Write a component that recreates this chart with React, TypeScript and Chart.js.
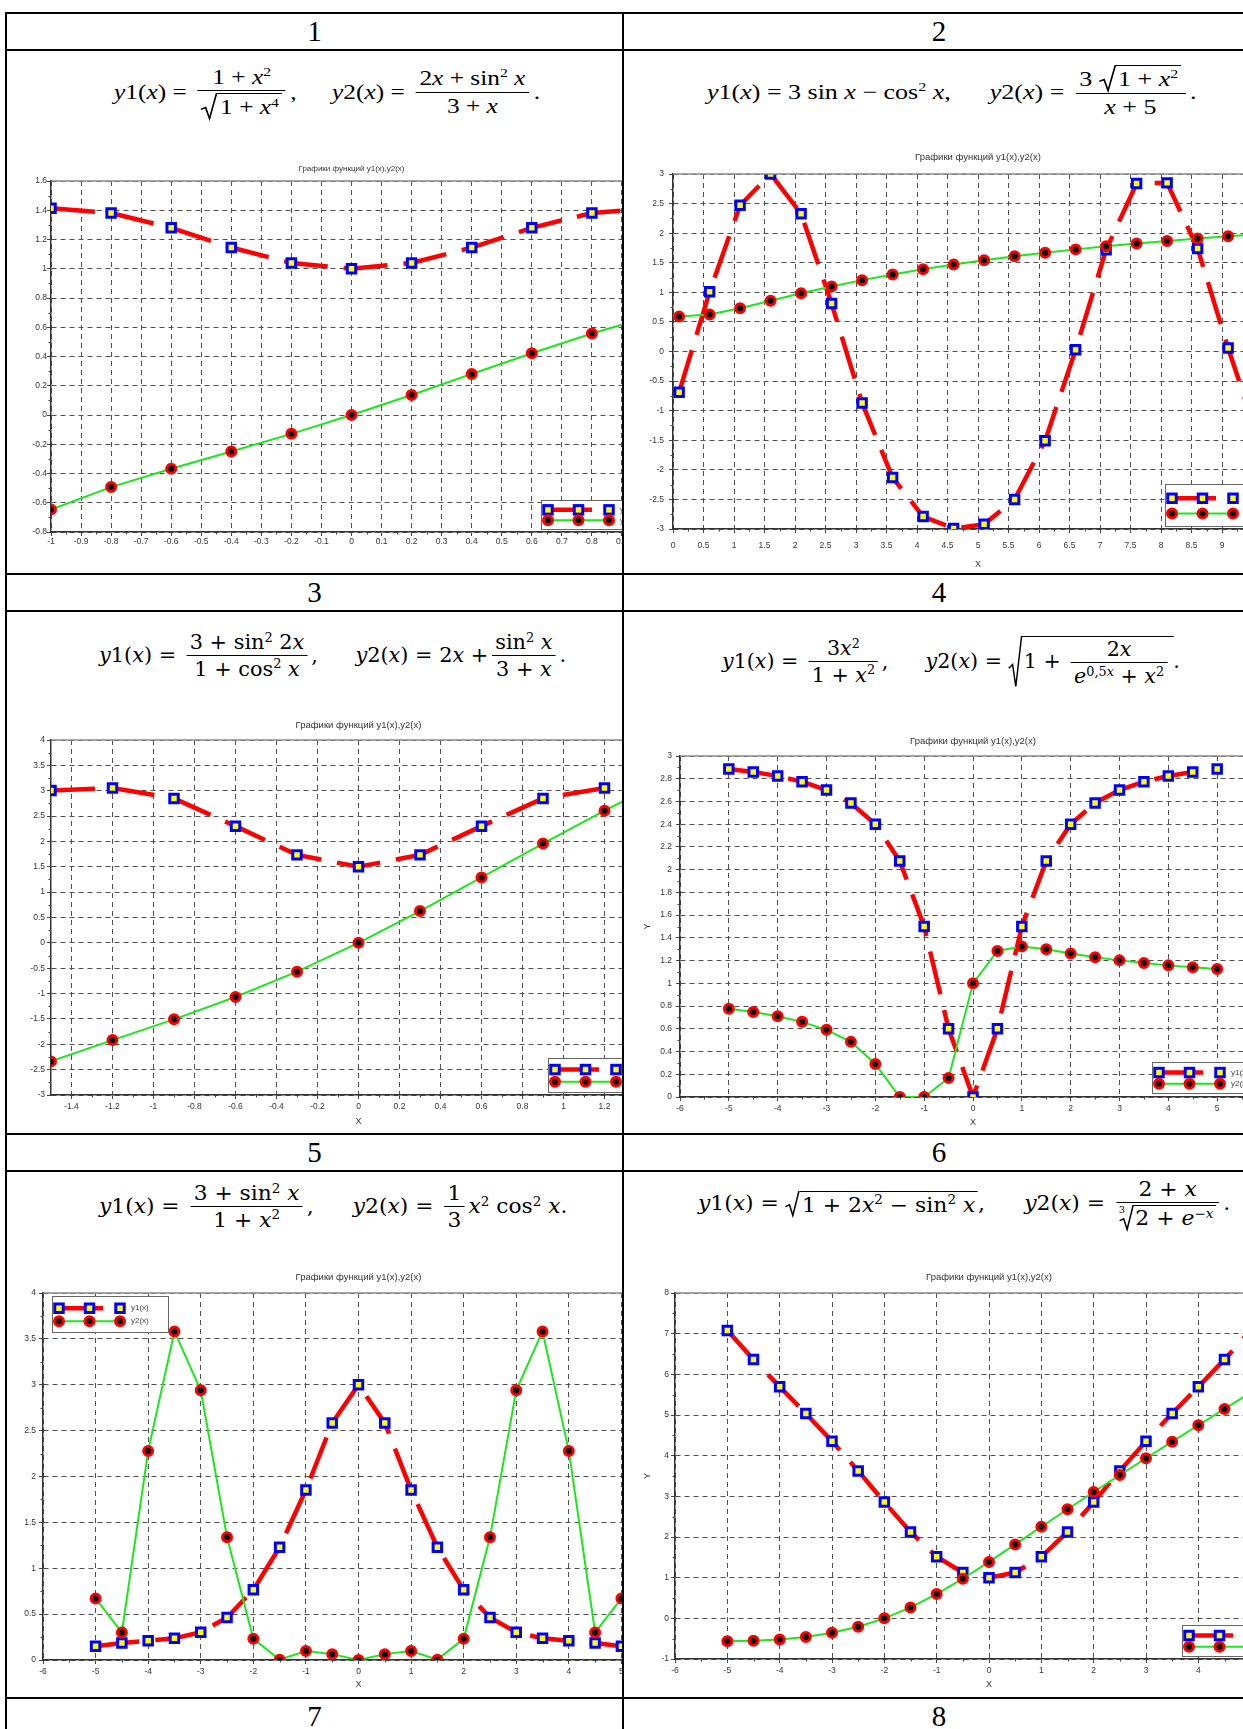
import React, { useEffect, useLayoutEffect, useRef } from 'react';
import { Chart, registerables } from 'chart.js';

Chart.register(...registerables);

// ================= DATA =================
const CHART_TITLE = 'Графики функций y1(x),y2(x)';
const SERIES_LABELS = ['y1(x)', 'y2(x)'];
const AXIS_X_LABEL = 'X';
const AXIS_Y_LABEL = 'Y';
const HEADERS_LEFT = ['1', '3', '5', '7'];
const HEADERS_RIGHT = ['2', '4', '6', '8'];

// Chart 1
const X1 = [-1, -0.8, -0.6, -0.4, -0.2, 0, 0.2, 0.4, 0.6, 0.8, 1];
const Y1_1 = [1.414, 1.381, 1.28, 1.145, 1.039, 1.0, 1.039, 1.145, 1.28, 1.381, 1.414];
const Y2_1 = [-0.646, -0.493, -0.367, -0.249, -0.129, 0, 0.137, 0.28, 0.422, 0.557, 0.677];
const X_TICKS_1 = [-1, -0.9, -0.8, -0.7, -0.6, -0.5, -0.4, -0.3, -0.2, -0.1, 0, 0.1, 0.2, 0.3, 0.4, 0.5, 0.6, 0.7, 0.8, 0.9, 1];
const Y_TICKS_1 = [-0.8, -0.6, -0.4, -0.2, 0, 0.2, 0.4, 0.6, 0.8, 1, 1.2, 1.4, 1.6];

// Chart 2
const X2 = [0.1, 0.6, 1.1, 1.6, 2.1, 2.6, 3.1, 3.6, 4.1, 4.6, 5.1, 5.6, 6.1, 6.6, 7.1, 7.6, 8.1, 8.6, 9.1, 9.6];
const Y1_2 = [-0.69, 1.01, 2.47, 3.0, 2.33, 0.81, -0.87, -2.13, -2.79, -2.99, -2.92, -2.5, -1.51, 0.03, 1.72, 2.84, 2.85, 1.74, 0.06, -1.49];
const Y2_2 = [0.591, 0.625, 0.731, 0.858, 0.983, 1.1, 1.206, 1.303, 1.391, 1.471, 1.544, 1.61, 1.671, 1.726, 1.778, 1.825, 1.869, 1.91, 1.948, 1.983];
const X_TICKS_2 = [0, 0.5, 1, 1.5, 2, 2.5, 3, 3.5, 4, 4.5, 5, 5.5, 6, 6.5, 7, 7.5, 8, 8.5, 9, 9.5, 10];
const Y_TICKS_2 = [-3, -2.5, -2, -1.5, -1, -0.5, 0, 0.5, 1, 1.5, 2, 2.5, 3];

// Chart 3
const X3 = [-1.5, -1.2, -0.9, -0.6, -0.3, 0, 0.3, 0.6, 0.9, 1.2, 1.5];
const Y1_3 = [3.005, 3.055, 2.848, 2.301, 1.735, 1.5, 1.735, 2.301, 2.848, 3.055, 3.005];
const Y2_3 = [-2.337, -1.917, -1.508, -1.067, -0.568, 0, 0.627, 1.289, 1.957, 2.607, 3.221];
const X_TICKS_3 = [-1.4, -1.2, -1, -0.8, -0.6, -0.4, -0.2, 0, 0.2, 0.4, 0.6, 0.8, 1, 1.2, 1.4];
const Y_TICKS_3 = [-3, -2.5, -2, -1.5, -1, -0.5, 0, 0.5, 1, 1.5, 2, 2.5, 3, 3.5, 4];

// Charts 4-6 share the x grid
const X_HALF = [-5, -4.5, -4, -3.5, -3, -2.5, -2, -1.5, -1, -0.5, 0, 0.5, 1, 1.5, 2, 2.5, 3, 3.5, 4, 4.5, 5];
const X_TICKS_INT = [-6, -5, -4, -3, -2, -1, 0, 1, 2, 3, 4, 5, 6];

// Chart 4
const Y1_4 = [2.885, 2.859, 2.824, 2.774, 2.7, 2.586, 2.4, 2.077, 1.5, 0.6, 0, 0.6, 1.5, 2.077, 2.4, 2.586, 2.7, 2.774, 2.824, 2.859, 2.885];
const Y2_4 = [0.776, 0.747, 0.71, 0.661, 0.591, 0.485, 0.29, 0, 0, 0.167, 1, 1.285, 1.325, 1.299, 1.263, 1.23, 1.202, 1.179, 1.158, 1.141, 1.127];
const Y_TICKS_4 = [0, 0.2, 0.4, 0.6, 0.8, 1, 1.2, 1.4, 1.6, 1.8, 2, 2.2, 2.4, 2.6, 2.8, 3];

// Chart 5
const Y1_5 = [0.151, 0.186, 0.21, 0.236, 0.302, 0.463, 0.765, 1.229, 1.854, 2.584, 3.0, 2.584, 1.854, 1.229, 0.765, 0.463, 0.302, 0.236, 0.21, 0.186, 0.151];
const Y2_5 = [0.671, 0.3, 2.279, 3.581, 2.94, 1.337, 0.231, 0.004, 0.097, 0.064, 0, 0.064, 0.097, 0.004, 0.231, 1.337, 2.94, 3.581, 2.279, 0.3, 0.671];
const Y_TICKS_5 = [0, 0.5, 1, 1.5, 2, 2.5, 3, 3.5, 4];

// Chart 6
const Y1_6 = [7.077, 6.367, 5.694, 5.038, 4.357, 3.625, 2.859, 2.123, 1.514, 1.127, 1, 1.127, 1.514, 2.123, 2.859, 3.625, 4.357, 5.038, 5.694, 6.367, 7.077];
const Y2_6 = [-0.564, -0.554, -0.521, -0.458, -0.356, -0.207, 0, 0.268, 0.596, 0.974, 1.387, 1.817, 2.251, 2.682, 3.106, 3.524, 3.936, 4.344, 4.748, 5.15, 5.55];
const Y_TICKS_6 = [-1, 0, 1, 2, 3, 4, 5, 6, 7, 8];

// ================= STYLE / LAYOUT =================
const RED = '#ff0000';
const GREEN = '#1ee61e';
const BLUE = '#0000ff';
const YELLOW = '#ffff00';
const RED_DASH = [44, 16];
const GRID_DASH = [5, 4];
const AX_W = 50;
const AX_H = 45;
const PAD_T = 30;
const PAD_R = 20;
const SANS = '"Liberation Sans", Arial, sans-serif';
const SERIF_T = '"Liberation Serif", "Times New Roman", serif';
const SERIF_C = '"DejaVu Serif", "Liberation Serif", serif';

const CELLS = {
  c1: { l: 7, t: 51, r: 622, b: 573 },
  c2: { l: 624, t: 51, r: 1243, b: 573 },
  c3: { l: 7, t: 612, r: 622, b: 1133 },
  c4: { l: 624, t: 612, r: 1243, b: 1133 },
  c5: { l: 7, t: 1172, r: 622, b: 1697 },
  c6: { l: 624, t: 1172, r: 1243, b: 1697 },
};

const SPECS: any[] = [
  { xs: X1, y1: Y1_1, y2: Y2_1, xMin: -1, xMax: 1, yMin: -0.8, yMax: 1.6, xTicks: X_TICKS_1, yTicks: Y_TICKS_1,
    plot: { l: 51, t: 181, r: 652, b: 532 }, cell: CELLS.c1, titleY: 169, titleSize: 8,
    xLabelY: null, yLabelX: null, legend: { x: 541, y: 500, w: 116, h: 29 }, xPad: 1, yPad: 0 },
  { xs: X2, y1: Y1_2, y2: Y2_2, xMin: 0, xMax: 10, yMin: -3, yMax: 3, xTicks: X_TICKS_2, yTicks: Y_TICKS_2,
    plot: { l: 673, t: 174, r: 1283, b: 529 }, cell: CELLS.c2, titleY: 157, titleSize: 9.5,
    xLabelY: 565, yLabelX: null, legend: { x: 1165, y: 484, w: 116, h: 42 }, xPad: 8, yPad: 5 },
  { xs: X3, y1: Y1_3, y2: Y2_3, xMin: -1.5, xMax: 1.5, yMin: -3, yMax: 4, xTicks: X_TICKS_3, yTicks: Y_TICKS_3,
    plot: { l: 51, t: 740, r: 666, b: 1095 }, cell: CELLS.c3, titleY: 725, titleSize: 9.5,
    xLabelY: 1122, yLabelX: null, legend: { x: 548, y: 1058, w: 116, h: 34 }, xPad: 2.5, yPad: 2 },
  { xs: X_HALF, y1: Y1_4, y2: Y2_4, xMin: -6, xMax: 6, yMin: 0, yMax: 3, xTicks: X_TICKS_INT, yTicks: Y_TICKS_4,
    plot: { l: 680, t: 756, r: 1266, b: 1097 }, cell: CELLS.c4, titleY: 741, titleSize: 9.5,
    xLabelY: 1123, yLabelX: 648, legend: { x: 1152, y: 1062, w: 116, h: 31 }, xPad: 2.5, yPad: 4 },
  { xs: X_HALF, y1: Y1_5, y2: Y2_5, xMin: -6, xMax: 6, yMin: 0, yMax: 4, xTicks: X_TICKS_INT, yTicks: Y_TICKS_5,
    plot: { l: 43, t: 1293, r: 674, b: 1660 }, cell: CELLS.c5, titleY: 1277, titleSize: 9.5,
    xLabelY: 1685, yLabelX: null, legend: { x: 52, y: 1296, w: 116, h: 36 }, xPad: 2.5, yPad: 3 },
  { xs: X_HALF, y1: Y1_6, y2: Y2_6, xMin: -6, xMax: 6, yMin: -1, yMax: 8, xTicks: X_TICKS_INT, yTicks: Y_TICKS_6,
    plot: { l: 675, t: 1293, r: 1303, b: 1659 }, cell: CELLS.c6, titleY: 1277, titleSize: 9.5,
    xLabelY: 1685, yLabelX: 648, legend: { x: 1182, y: 1625, w: 116, h: 31 }, xPad: 2.5, yPad: 2 },
];

// ================= CHART HELPERS =================
function drawSquare(ctx: any, x: number, y: number) {
  const s = 8.5;
  ctx.fillStyle = YELLOW;
  ctx.fillRect(x - s / 2, y - s / 2, s, s);
  ctx.strokeStyle = BLUE;
  ctx.lineWidth = 3;
  ctx.strokeRect(x - s / 2, y - s / 2, s, s);
}
function drawDot(ctx: any, x: number, y: number) {
  ctx.beginPath();
  ctx.arc(x, y, 4.5, 0, Math.PI * 2);
  ctx.fillStyle = '#000';
  ctx.fill();
  ctx.strokeStyle = RED;
  ctx.lineWidth = 3;
  ctx.stroke();
}

const decoPlugin = {
  id: 'deco',
  afterDraw(chart: any, _a: any, o: any) {
    const { ctx, chartArea: ca, scales } = chart;
    const xs = scales.x;
    const ys = scales.y;
    ctx.save();
    ctx.setLineDash([]);
    ctx.strokeStyle = '#8c8c8c';
    ctx.lineWidth = 1.5;
    ctx.beginPath();
    ctx.moveTo(ca.left, ca.top);
    ctx.lineTo(ca.right, ca.top);
    ctx.lineTo(ca.right, ca.bottom);
    ctx.stroke();
    // minor ticks
    ctx.strokeStyle = '#444';
    ctx.lineWidth = 1;
    ctx.beginPath();
    const xt = xs.ticks.map((t: any) => t.value);
    for (let i = 0; i < xt.length - 1; i++) {
      const px = Math.round(xs.getPixelForValue((xt[i] + xt[i + 1]) / 2)) + 0.5;
      ctx.moveTo(px, ca.bottom);
      ctx.lineTo(px, ca.bottom + 2.5);
    }
    const yt = ys.ticks.map((t: any) => t.value);
    for (let i = 0; i < yt.length - 1; i++) {
      const py = Math.round(ys.getPixelForValue((yt[i] + yt[i + 1]) / 2)) + 0.5;
      ctx.moveTo(ca.left, py);
      ctx.lineTo(ca.left - 2.5, py);
    }
    ctx.stroke();
    // texts
    const cx = (ca.left + ca.right) / 2;
    ctx.fillStyle = '#333';
    ctx.textAlign = 'center';
    ctx.textBaseline = 'middle';
    ctx.font = `${o.titleSize}px ${SANS}`;
    ctx.fillText(o.title, cx, o.titleY);
    ctx.font = `9px ${SANS}`;
    if (o.xLabelY != null) ctx.fillText(o.xLabel, cx, o.xLabelY);
    if (o.yLabelX != null) {
      ctx.save();
      ctx.translate(o.yLabelX, (ca.top + ca.bottom) / 2);
      ctx.rotate(-Math.PI / 2);
      ctx.fillText(o.yLabel, 0, 0);
      ctx.restore();
    }
    // legend
    const L = o.legend;
    ctx.fillStyle = '#fff';
    ctx.fillRect(L.x, L.y, L.w, L.h);
    ctx.strokeStyle = '#666';
    ctx.lineWidth = 1;
    ctx.strokeRect(L.x + 0.5, L.y + 0.5, L.w, L.h);
    const r1 = L.y + L.h * 0.34;
    const r2 = L.y + L.h * 0.7;
    const m = [L.x + 7, L.x + 37.5, L.x + 68];
    ctx.lineCap = 'butt';
    ctx.strokeStyle = RED;
    ctx.lineWidth = 4.5;
    ctx.setLineDash(RED_DASH);
    ctx.beginPath();
    ctx.moveTo(m[0], r1);
    ctx.lineTo(m[2], r1);
    ctx.stroke();
    ctx.setLineDash([]);
    ctx.strokeStyle = GREEN;
    ctx.lineWidth = 2;
    ctx.beginPath();
    ctx.moveTo(m[0], r2);
    ctx.lineTo(m[2], r2);
    ctx.stroke();
    m.forEach((x) => {
      drawSquare(ctx, x, r1);
      drawDot(ctx, x, r2);
    });
    ctx.fillStyle = '#444';
    ctx.textAlign = 'left';
    ctx.font = `8px ${SANS}`;
    ctx.fillText(o.labels[0], L.x + 79, r1);
    ctx.fillText(o.labels[1], L.x + 79, r2);
    ctx.restore();
  },
};

function buildConfig(s: any, cl: number, ct: number): any {
  const pts = (ys: number[]) => s.xs.map((x: number, i: number) => ({ x, y: ys[i] }));
  const tickFont = { family: SANS, size: 8.5 };
  const fmt = (v: any) => String(Math.round(Number(v) * 100) / 100);
  const axis = (ticksArr: number[], pad: number) => ({
    type: 'linear',
    afterBuildTicks: (sc: any) => {
      sc.ticks = ticksArr.map((v) => ({ value: v }));
    },
    ticks: { callback: fmt, font: tickFont, color: '#333', padding: pad, autoSkip: false, maxRotation: 0, minRotation: 0 },
    grid: { color: '#505050', lineWidth: 1, drawTicks: true, tickLength: 4, tickColor: '#444', tickWidth: 1 },
    border: { display: true, color: '#333', width: 1.5, dash: GRID_DASH },
  });
  return {
    type: 'line',
    data: {
      datasets: [
        {
          label: SERIES_LABELS[0], data: pts(s.y1), borderColor: RED, borderWidth: 4.5, borderDash: RED_DASH,
          borderCapStyle: 'butt', pointStyle: 'rect', pointRadius: 6, pointBorderWidth: 3,
          pointBorderColor: BLUE, pointBackgroundColor: YELLOW, fill: false, tension: 0, clip: 0, order: 1,
        },
        {
          label: SERIES_LABELS[1], data: pts(s.y2), borderColor: GREEN, borderWidth: 2,
          pointStyle: 'circle', pointRadius: 4.5, pointBorderWidth: 3,
          pointBorderColor: RED, pointBackgroundColor: '#000', fill: false, tension: 0, clip: 0, order: 0,
        },
      ],
    },
    options: {
      animation: false,
      responsive: false,
      maintainAspectRatio: false,
      devicePixelRatio: 1,
      events: [],
      layout: { padding: { left: 0, top: PAD_T, right: PAD_R, bottom: 0 } },
      plugins: {
        legend: { display: false },
        tooltip: { enabled: false },
        title: { display: false },
        deco: {
          title: CHART_TITLE, titleSize: s.titleSize, titleY: s.titleY - ct,
          xLabel: AXIS_X_LABEL, yLabel: AXIS_Y_LABEL,
          xLabelY: s.xLabelY == null ? null : s.xLabelY - ct,
          yLabelX: s.yLabelX == null ? null : s.yLabelX - cl,
          legend: { x: s.legend.x - cl, y: s.legend.y - ct, w: s.legend.w, h: s.legend.h },
          labels: SERIES_LABELS,
        },
      },
      scales: {
        x: { ...axis(s.xTicks, s.xPad), min: s.xMin, max: s.xMax, afterFit: (sc: any) => { sc.height = AX_H; } },
        y: { ...axis(s.yTicks, s.yPad), min: s.yMin, max: s.yMax, afterFit: (sc: any) => { sc.width = AX_W; } },
      },
    },
    plugins: [decoPlugin],
  };
}

function ChartCell({ spec }: any) {
  const ref = useRef<HTMLCanvasElement>(null);
  const { plot, cell } = spec;
  const cl = plot.l - AX_W;
  const ct = plot.t - PAD_T;
  const cw = plot.r - plot.l + AX_W + PAD_R;
  const chh = plot.b - plot.t + PAD_T + AX_H;
  useEffect(() => {
    const chart = new Chart(ref.current as HTMLCanvasElement, buildConfig(spec, cl, ct));
    return () => chart.destroy();
  }, []);
  return (
    <div style={{ position: 'absolute', left: cell.l, top: cell.t, width: cell.r - cell.l, height: cell.b - cell.t, overflow: 'hidden', background: '#fff' }}>
      <canvas ref={ref} width={cw} height={chh} style={{ position: 'absolute', left: cl - cell.l, top: ct - cell.t, width: cw, height: chh }} />
    </div>
  );
}

// ================= MATH TYPESETTING =================
const Sup = ({ children }: any) => (
  <span style={{ fontSize: '0.62em', position: 'relative', top: '-0.6em', lineHeight: 0 }}>{children}</span>
);

const Frac = ({ n, d }: any) => (
  <span style={{ display: 'inline-flex', flexDirection: 'column', verticalAlign: 'middle', textAlign: 'center', margin: '0 0.18em', flex: 'none' }}>
    <span style={{ padding: '0 0.15em 0.06em' }}>{n}</span>
    <span style={{ borderTop: '1.4px solid #000', padding: '0.08em 0.15em 0' }}>{d}</span>
  </span>
);

const Sqrt = ({ children, index }: any) => (
  <span style={{ display: 'inline-flex', position: 'relative', flex: 'none' }}>
    <span style={{ position: 'relative', width: '0.62em', alignSelf: 'stretch', flex: 'none' }}>
      <svg viewBox="0 0 10 100" preserveAspectRatio="none" style={{ position: 'absolute', left: 0, top: 0, width: '100%', height: '100%', overflow: 'visible' }}>
        <polyline points="0,62 3,55 5.5,97 10,0.7" fill="none" stroke="#000" strokeWidth={1.4} vectorEffect="non-scaling-stroke" />
      </svg>
      {index ? <span style={{ position: 'absolute', left: '-0.05em', top: '0.15em', fontSize: '0.45em', lineHeight: 1 }}>{index}</span> : null}
    </span>
    <span style={{ borderTop: '1.4px solid #000', padding: '0.06em 0.12em 0', alignSelf: 'baseline' }}>{children}</span>
  </span>
);

const Gap = ({ w }: any) => <span style={{ display: 'inline-block', width: w, flex: 'none' }} />;

function Formula({ left, width, midY, font, size, children }: any) {
  const ref = useRef<HTMLDivElement>(null);
  useLayoutEffect(() => {
    const el = ref.current;
    if (!el) return;
    const w = el.offsetWidth;
    const h = el.offsetHeight;
    el.style.transform = `scaleX(${width / w})`;
    el.style.top = `${midY - h / 2}px`;
    el.style.visibility = 'visible';
  }, []);
  return (
    <div ref={ref} style={{ position: 'absolute', left, top: midY, display: 'flex', alignItems: 'center', whiteSpace: 'nowrap', fontFamily: font, fontSize: size, lineHeight: 1.15, color: '#000', transformOrigin: '0 50%', visibility: 'hidden' }}>
      {children}
    </div>
  );
}

const V = ({ children }: any) => <i>{children}</i>;

function Formulas() {
  return (
    <>
      <Formula left={114} width={426} midY={92} font={SERIF_T} size={21}>
        <span><V>y</V>1(<V>x</V>)&nbsp;=&nbsp;</span>
        <Frac n={<>1 + <V>x</V><Sup>2</Sup></>} d={<Sqrt>1 + <V>x</V><Sup>4</Sup></Sqrt>} />
        <span>,</span>
        <Gap w="1.4em" />
        <span><V>y</V>2(<V>x</V>)&nbsp;=&nbsp;</span>
        <Frac n={<>2<V>x</V> + sin<Sup>2</Sup>&nbsp;<V>x</V></>} d={<>3 + <V>x</V></>} />
        <span>.</span>
      </Formula>
      <Formula left={707} width={490} midY={92} font={SERIF_T} size={21}>
        <span><V>y</V>1(<V>x</V>) = 3 sin <V>x</V> − cos<Sup>2</Sup>&nbsp;<V>x</V>,</span>
        <Gap w="1.5em" />
        <span><V>y</V>2(<V>x</V>)&nbsp;=&nbsp;</span>
        <Frac n={<>3&nbsp;<Sqrt>1 + <V>x</V><Sup>2</Sup></Sqrt></>} d={<><V>x</V> + 5</>} />
        <span>.</span>
      </Formula>
      <Formula left={99} width={467} midY={656} font={SERIF_C} size={20}>
        <span><V>y</V>1(<V>x</V>)&nbsp;=&nbsp;</span>
        <Frac n={<>3 + sin<Sup>2</Sup>&nbsp;2<V>x</V></>} d={<>1 + cos<Sup>2</Sup>&nbsp;<V>x</V></>} />
        <span>,</span>
        <Gap w="1.8em" />
        <span><V>y</V>2(<V>x</V>) = 2<V>x</V> +</span>
        <Frac n={<>sin<Sup>2</Sup>&nbsp;<V>x</V></>} d={<>3 + <V>x</V></>} />
        <span>.</span>
      </Formula>
      <Formula left={722} width={458} midY={662} font={SERIF_C} size={20}>
        <span><V>y</V>1(<V>x</V>)&nbsp;=&nbsp;</span>
        <Frac n={<>3<V>x</V><Sup>2</Sup></>} d={<>1 + <V>x</V><Sup>2</Sup></>} />
        <span>,</span>
        <Gap w="1.8em" />
        <span><V>y</V>2(<V>x</V>)&nbsp;=&nbsp;</span>
        <Sqrt>1 + <Frac n={<>2<V>x</V></>} d={<><V>e</V><Sup>0,5<V>x</V></Sup> + <V>x</V><Sup>2</Sup></>} /></Sqrt>
        <span>.</span>
      </Formula>
      <Formula left={99} width={469} midY={1207} font={SERIF_C} size={20}>
        <span><V>y</V>1(<V>x</V>)&nbsp;=&nbsp;</span>
        <Frac n={<>3 + sin<Sup>2</Sup>&nbsp;<V>x</V></>} d={<>1 + <V>x</V><Sup>2</Sup></>} />
        <span>,</span>
        <Gap w="1.8em" />
        <span><V>y</V>2(<V>x</V>)&nbsp;=&nbsp;</span>
        <Frac n={<>1</>} d={<>3</>} />
        <span><V>x</V><Sup>2</Sup>&nbsp;cos<Sup>2</Sup>&nbsp;<V>x</V>.</span>
      </Formula>
      <Formula left={698} width={532} midY={1204} font={SERIF_C} size={20}>
        <span><V>y</V>1(<V>x</V>)&nbsp;=&nbsp;</span>
        <Sqrt>1 + 2<V>x</V><Sup>2</Sup> − sin<Sup>2</Sup>&nbsp;<V>x</V></Sqrt>
        <span>,</span>
        <Gap w="1.8em" />
        <span><V>y</V>2(<V>x</V>)&nbsp;=&nbsp;</span>
        <Frac n={<>2 + <V>x</V></>} d={<Sqrt index="3">2 + <V>e</V><Sup>−<V>x</V></Sup></Sqrt>} />
        <span>.</span>
      </Formula>
    </>
  );
}

// ================= TABLE =================
const H_LINES = [12, 49, 573, 610, 1133, 1170, 1697];
const V_LINES = [5, 622];
const HEADER_ROWS = [
  { t: 14, h: 35 },
  { t: 575, h: 35 },
  { t: 1135, h: 35 },
  { t: 1699, h: 34 },
];

function Table() {
  return (
    <>
      {H_LINES.map((y, i) => (
        <div key={'h' + i} style={{ position: 'absolute', left: 5, top: y, width: 1243, height: 2, background: '#000' }} />
      ))}
      {V_LINES.map((x, i) => (
        <div key={'v' + i} style={{ position: 'absolute', left: x, top: 12, width: 2, height: 1729, background: '#000' }} />
      ))}
      {HEADER_ROWS.map((r, i) => (
        <React.Fragment key={'r' + i}>
          <div style={{ position: 'absolute', left: 7, top: r.t, width: 615, height: r.h, lineHeight: r.h + 'px', textAlign: 'center', fontFamily: SERIF_T, fontSize: 29 }}>{HEADERS_LEFT[i]}</div>
          <div style={{ position: 'absolute', left: 624, top: r.t, width: 630, height: r.h, lineHeight: r.h + 'px', textAlign: 'center', fontFamily: SERIF_T, fontSize: 29 }}>{HEADERS_RIGHT[i]}</div>
        </React.Fragment>
      ))}
    </>
  );
}

export default function App() {
  return (
    <div style={{ position: 'absolute', left: 0, top: 0, width: 1243, height: 1729, background: '#fff', overflow: 'hidden' }}>
      {SPECS.map((s, i) => (
        <ChartCell key={i} spec={s} />
      ))}
      <Formulas />
      <Table />
    </div>
  );
}
